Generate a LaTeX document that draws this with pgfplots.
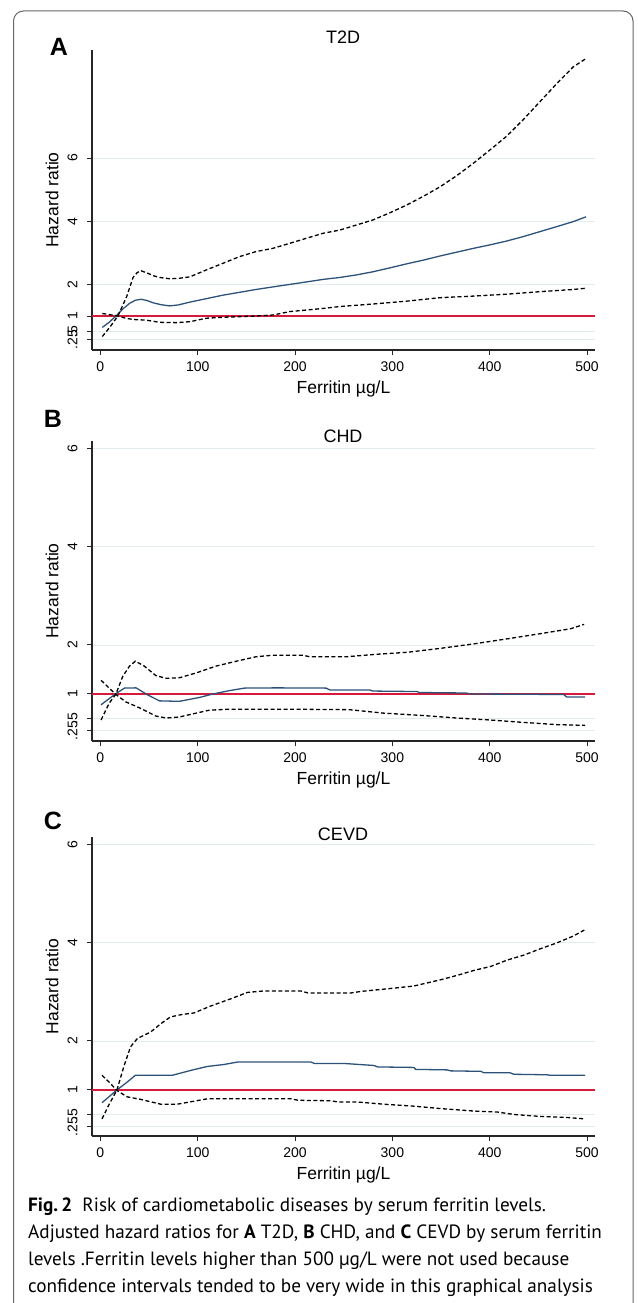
\documentclass[border=0pt]{standalone}
\usepackage{fontspec}
\setmainfont{Liberation Sans}
\newfontfamily\capfont{PT Sans}
\usepackage{pgfplots}
\pgfplotsset{compat=1.18}

\definecolor{fitblue}{RGB}{45,82,122}
\definecolor{refred}{RGB}{215,25,60}
\definecolor{gridc}{RGB}{226,235,238}

\pgfplotsset{
  hrpanel/.style={
    scale only axis, width=503pt, height=300pt, anchor=south west,
    xmin=-8.6, xmax=508.2,
    axis lines*=left,
    axis line style={line width=1.1pt, black!85},
    tick align=outside, major tick length=5pt,
    tick style={line width=1pt, black!85},
    xtick={0,100,200,300,400,500}, xticklabels={0,100,200,300,400,500},
    ytick={0.25,0.5,1,2,4,6}, yticklabels={.25,.5,1,2,4,6},
    yticklabel style={rotate=90, anchor=south, yshift=6pt},
    xticklabel style={yshift=-3pt},
    ymajorgrids, major grid style={gridc, line width=0.9pt},
    ticklabel style={font=\fontsize{14}{14}\selectfont},
    label style={font=\fontsize{17.5}{18}\selectfont},
    xlabel={Ferritin µg/L}, ylabel={Hazard ratio},
    xlabel style={at={(axis description cs:0.5,0)}, anchor=center, yshift=-39pt},
    ylabel style={at={(axis description cs:-0.0795,0.5)}, anchor=center},
    /pgf/number format/assume math mode=true,
  },
  ci/.style={black, line width=1.3pt, dash pattern=on 4pt off 2.5pt},
  fit/.style={fitblue, line width=1.3pt},
  refl/.style={refred, line width=1.1pt},
}

\begin{document}
\begin{tikzpicture}
\useasboundingbox (0,0) rectangle (637pt,-1303pt);
\draw[black!60, line width=1pt, rounded corners=10pt]
  (13.5pt,-1320pt) -- (13.5pt,-11pt) -- (633pt,-11pt) -- (633pt,-1320pt);

%%%%% A: T2D
\begin{axis}[hrpanel, at={(92pt,-350pt)}, ymin=-0.076, ymax=9.42]
\addplot[refl] coordinates {(-8.6,1)(508.2,1)};
\addplot[fit] coordinates {
(2,0.64)(9,0.80)(16,1.0)(23,1.22)(30,1.40)(36,1.50)(42,1.53)(48,1.49)(54,1.42)
(62,1.36)(71,1.32)(80,1.35)(92,1.44)(109,1.55)(126,1.66)(143,1.75)(160,1.84)
(177,1.92)(194.5,2.0)(212,2.08)(229,2.16)(246,2.22)(263,2.30)(280,2.40)(297,2.52)
(314.5,2.65)(332,2.77)(349,2.90)(366,3.02)(383,3.14)(400,3.25)(417,3.37)(434,3.51)
(451.5,3.67)(469,3.83)(486,3.99)(499,4.14)};
\addplot[ci] coordinates {
(2,0.35)(9.6,0.64)(18,1.0)(27,1.61)(33.6,2.22)(38,2.38)(42,2.43)(49,2.35)(55,2.27)
(61,2.22)(71,2.18)(80,2.19)(92,2.24)(109,2.46)(126,2.67)(143,2.88)(160,3.04)
(177,3.14)(194.5,3.30)(211.6,3.46)(229,3.62)(246,3.72)(263,3.88)(280,4.04)(297,4.26)
(314.5,4.51)(332,4.79)(349,5.09)(366,5.44)(383,5.83)(400,6.25)(417,6.68)(434,7.20)
(451.5,7.78)(469,8.36)(486,8.89)(499,9.15)};
\addplot[ci] coordinates {
(2,1.08)(10,1.04)(18,1.0)(26,0.93)(33.6,0.89)(47,0.87)(61,0.80)(78,0.79)(92,0.82)
(109,0.93)(126,0.96)(143,0.98)(160,1.0)(177,1.03)(194.5,1.14)(212,1.19)(229,1.24)
(246,1.30)(263,1.34)(280,1.38)(314.5,1.47)(349,1.58)(383,1.63)(417,1.69)(451.5,1.77)
(486,1.84)(499,1.88)};
\end{axis}

%%%%% B: CHD
\begin{axis}[hrpanel, at={(92pt,-741pt)}, ymin=0.041, ymax=6.16]
\addplot[refl] coordinates {(-8.6,1)(508.2,1)};
\addplot[fit] coordinates {
(0.7,0.78)(15.4,1.0)(24.7,1.12)(36.7,1.125)(48.7,0.98)(60.7,0.86)(81,0.85)(102,0.93)
(115.6,1.0)(133,1.07)(148,1.12)(181,1.125)(232,1.12)(236,1.08)(277,1.08)(280,1.06)
(325,1.05)(328,1.03)(376,1.02)(380,1.0)(476,0.99)(479,0.94)(498,0.94)};
\addplot[ci] coordinates {
(0.7,0.47)(9,0.81)(16,1.0)(23,1.36)(30,1.57)(36,1.67)(45,1.57)(57,1.375)(67.6,1.32)
(81,1.33)(98.5,1.43)(119,1.57)(140,1.67)(160,1.76)(177,1.79)(208,1.79)(215,1.76)
(253,1.76)(284,1.81)(315,1.85)(349,1.93)(383,2.02)(418,2.125)(452,2.23)(483,2.33)
(497,2.42)};
\addplot[ci] coordinates {
(0.7,1.28)(9,1.12)(16,0.99)(26,0.84)(40,0.72)(57,0.55)(67.6,0.51)(81,0.53)(98.5,0.61)
(112,0.67)(133,0.69)(194.6,0.69)(256,0.68)(290.7,0.61)(332,0.56)(366,0.51)(400,0.47)
(435,0.42)(469,0.375)(498,0.36)};
\end{axis}

%%%%% C: CEVD
\begin{axis}[hrpanel, at={(92pt,-1136pt)}, height=299pt, ymin=0.061, ymax=6.16]
\addplot[refl] coordinates {(-8.6,1)(508.2,1)};
\addplot[fit] coordinates {
(1.7,0.74)(17,1.0)(27.5,1.16)(36,1.30)(74,1.30)(93,1.40)(110,1.48)(127,1.52)(141,1.57)
(216.5,1.57)(220,1.54)(251,1.54)(281,1.50)(285,1.47)(322,1.46)(324,1.42)(356,1.41)
(360,1.39)(391,1.38)(394,1.35)(421,1.35)(425,1.32)(459,1.31)(462,1.30)(498,1.30)};
\addplot[ci] coordinates {
(1.7,0.41)(8.6,0.69)(17,1.0)(24,1.47)(31,1.88)(38,2.05)(51.5,2.18)(62,2.35)(72,2.49)
(84,2.54)(96,2.57)(113,2.71)(134,2.86)(151,2.99)(168,3.02)(206,3.02)(213,2.98)
(258,2.98)(267.5,3.01)(298,3.07)(322,3.12)(350,3.25)(367,3.34)(384,3.44)(401,3.52)
(418,3.65)(435,3.75)(452,3.88)(469,4.0)(486,4.14)(498,4.27)};
\addplot[ci] coordinates {
(1.7,1.30)(10,1.14)(17,0.99)(27.5,0.86)(41,0.81)(62,0.71)(79,0.71)(110,0.82)(144,0.82)
(196,0.82)(203,0.79)(237,0.78)(244,0.755)(264,0.755)(291,0.71)(322,0.67)(350,0.62)
(384,0.57)(408,0.55)(425,0.50)(452,0.46)(479,0.44)(498,0.41)};
\end{axis}

%%%%% titles and panel letters
\node[font=\fontsize{18}{18}\selectfont] at (343pt,-37pt) {T2D};
\node[font=\fontsize{18}{18}\selectfont] at (343pt,-436pt) {CHD};
\node[font=\fontsize{18}{18}\selectfont] at (343pt,-834pt) {CEVD};
\node[font=\fontsize{25}{25}\selectfont\bfseries] at (59pt,-47pt) {A};
\node[font=\fontsize{25}{25}\selectfont\bfseries] at (53pt,-419pt) {B};
\node[font=\fontsize{25}{25}\selectfont\bfseries] at (53pt,-821pt) {C};

%%%%% caption
\begin{scope}[every node/.style={anchor=base west, inner sep=0pt, font=\capfont\fontsize{19.2}{19.2}\selectfont}]
\node at (28pt,-1211pt) {\textbf{Fig.\,2}\ \ Risk of cardiometabolic diseases by serum ferritin levels.};
\node at (28pt,-1238pt) {Adjusted hazard ratios for \textbf{A} T2D, \textbf{B} CHD, and \textbf{C} CEVD by serum ferritin};
\node at (28pt,-1265pt) {levels .Ferritin levels higher than 500 µg/L were not used because};
\node at (28pt,-1292pt) {confidence intervals tended to be very wide in this graphical analysis};
\end{scope}
\end{tikzpicture}
\end{document}
